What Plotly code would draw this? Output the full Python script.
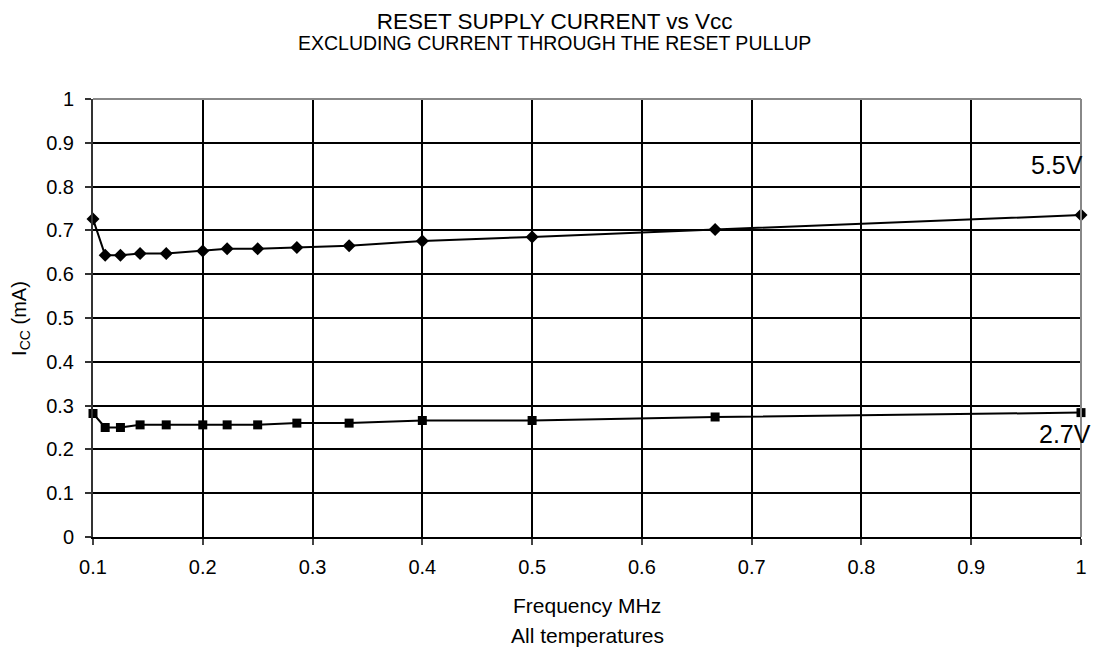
import plotly.graph_objects as go

freq_mhz = [0.1, 0.1111, 0.125, 0.1429, 0.1667, 0.2, 0.2222, 0.25, 0.2857, 0.3333, 0.4, 0.5, 0.6667, 1.0]
icc_55v = [0.726, 0.643, 0.643, 0.647, 0.647, 0.653, 0.658, 0.658, 0.661, 0.665, 0.676, 0.685, 0.702, 0.735]
icc_27v = [0.282, 0.250, 0.250, 0.256, 0.256, 0.256, 0.256, 0.256, 0.260, 0.260, 0.266, 0.266, 0.274, 0.284]
x_ticks = [0.1, 0.2, 0.3, 0.4, 0.5, 0.6, 0.7, 0.8, 0.9, 1]
x_ticktext = ["0.1", "0.2", "0.3", "0.4", "0.5", "0.6", "0.7", "0.8", "0.9", "1"]
y_ticks = [0, 0.1, 0.2, 0.3, 0.4, 0.5, 0.6, 0.7, 0.8, 0.9, 1]
y_ticktext = ["0", "0.1", "0.2", "0.3", "0.4", "0.5", "0.6", "0.7", "0.8", "0.9", "1"]

FONT = "Liberation Sans, Arial, sans-serif"

fig = go.Figure()
fig.add_trace(go.Scatter(
    x=freq_mhz, y=icc_55v, mode="lines+markers", name="5.5V",
    line=dict(color="black", width=2),
    marker=dict(symbol="diamond", size=10, color="black"),
    cliponaxis=False,
))
fig.add_trace(go.Scatter(
    x=freq_mhz, y=icc_27v, mode="lines+markers", name="2.7V",
    line=dict(color="black", width=2),
    marker=dict(symbol="square", size=9, color="black"),
    cliponaxis=False,
))

title_text = ("<span style='font-size:22.5px'>RESET SUPPLY CURRENT vs Vcc</span><br>"
              "<span style='font-size:19.5px'>EXCLUDING CURRENT THROUGH THE RESET PULLUP</span>")

# page body has an 8px default margin, so the figure is 8px smaller
fig.update_layout(
    width=1102, height=641,
    margin=dict(l=85, r=29, t=91, b=112),
    paper_bgcolor="white", plot_bgcolor="white",
    showlegend=False,
    font=dict(family=FONT, size=20, color="black"),
    xaxis=dict(
        range=[0.1, 1], tickvals=x_ticks, ticktext=x_ticktext,
        showgrid=True, gridcolor="black", gridwidth=2,
        showline=True, linecolor="black", linewidth=2,
        ticks="outside", ticklen=6, tickwidth=1.5, tickcolor="#444",
        zeroline=False, tickfont=dict(size=20), ticklabelstandoff=5,
    ),
    yaxis=dict(
        range=[0, 1], tickvals=y_ticks, ticktext=y_ticktext,
        showgrid=True, gridcolor="black", gridwidth=2,
        showline=True, linecolor="#333", linewidth=2,
        ticks="outside", ticklen=6, tickwidth=1.5, tickcolor="#333",
        zeroline=False, tickfont=dict(size=20), ticklabelstandoff=7,
    ),
    shapes=[
        dict(type="line", xref="paper", yref="paper", x0=0, x1=1, y0=1, y1=1,
             line=dict(color="#888", width=2)),
        dict(type="line", xref="paper", yref="paper", x0=1, x1=1, y0=0, y1=1,
             line=dict(color="#888", width=2)),
    ],
    annotations=[
        dict(text=title_text, xref="paper", yref="paper",
             x=0.4676, y=1.153, xanchor="center", yanchor="middle", showarrow=False,
             font=dict(size=16.5)),
        dict(text="Frequency MHz", xref="paper", yref="paper",
             x=0.5, y=-0.156, xanchor="center", yanchor="middle", showarrow=False,
             font=dict(size=21)),
        dict(text="All temperatures", xref="paper", yref="paper",
             x=0.5, y=-0.224, xanchor="center", yanchor="middle", showarrow=False,
             font=dict(size=21)),
        dict(text="I<sub>CC</sub> (mA)", xref="paper", yref="paper",
             x=-0.074, y=0.5, xanchor="center", yanchor="middle", showarrow=False,
             textangle=-90, font=dict(size=20)),
        dict(text="5.5V", xref="x", yref="y", x=1, y=0.85,
             xanchor="right", yanchor="middle", xshift=4, showarrow=False,
             font=dict(size=25)),
        dict(text="2.7V", xref="x", yref="y", x=1, y=0.236,
             xanchor="right", yanchor="middle", xshift=12, showarrow=False,
             font=dict(size=25)),
    ],
)

fig.write_html("out.html")
